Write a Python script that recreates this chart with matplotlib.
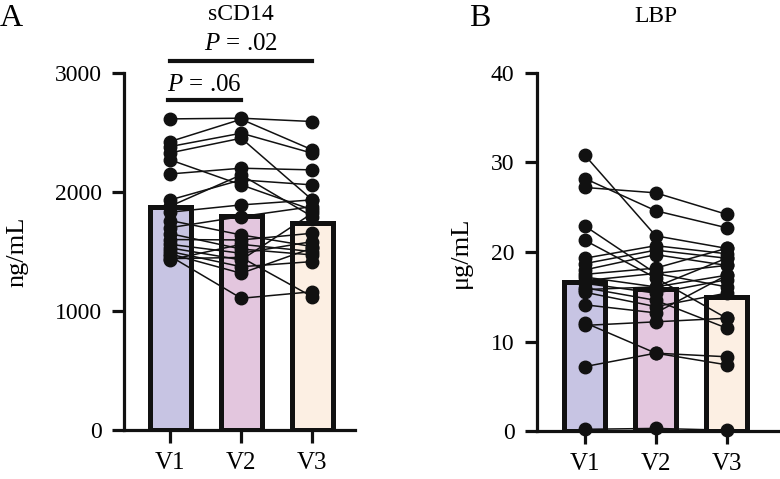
import matplotlib
matplotlib.use('Agg')
from matplotlib import pyplot as plt

plt.rcParams['font.family'] = ['Liberation Serif', 'DejaVu Serif']
plt.rcParams['mathtext.fontset'] = 'custom'
plt.rcParams['mathtext.rm'] = 'Liberation Serif'
plt.rcParams['mathtext.it'] = 'Liberation Serif:italic'

visits = ['V1', 'V2', 'V3']
bar_colors = ['#c7c4e3', '#e3c6de', '#fcefe3']

# sCD14 (ng/mL), one row per subject: V1, V2, V3
scd14 = [
    [2613, 2619, 2591], [2423, 2610, 2353], [2381, 2493, 2325], [2328, 2451, 1933],
    [2269, 2059, 1849], [2151, 2199, 2185], [1933, 2101, 2059], [1880, 2143, 1793],
    [1830, 1891, 1933], [1760, 1639, 1541], [1700, 1793, 1877], [1650, 1520, 1471],
    [1600, 1597, 1653], [1560, 1485, 1583], [1530, 1429, 1821], [1500, 1372, 1415],
    [1480, 1317, 1529], [1460, 1107, 1162], [1440, 1450, 1120], [1430, 1560, 1499],
]
scd14_mean = [1875, 1800, 1735]

# LBP (ug/mL)
lbp = [
    [30.8, 21.8, 20.4], [28.2, 24.6, 22.7], [27.2, 26.6, 24.2], [22.9, 17.6, 16.1],
    [21.3, 17.1, 12.6], [19.3, 20.7, 19.8], [18.7, 20.2, 19.3], [18.0, 19.7, 18.5],
    [17.5, 18.2, 20.4], [17.2, 16.1, 17.4], [16.5, 15.4, 16.9], [16.0, 14.6, 11.5],
    [15.5, 13.9, 15.4], [14.1, 13.2, 17.4], [12.1, 8.7, 8.3], [11.8, 12.2, 12.6],
    [7.2, 8.7, 7.4], [0.2, 0.3, 0.1], [15.8, 16.1, 19.3], [16.8, 17.6, 18.5],
]
lbp_mean = [16.6, 15.9, 15.0]

fig = plt.figure(figsize=(7.8, 4.79), dpi=100)
axA = fig.add_axes([0.159, 0.102, 0.296, 0.746])
axB = fig.add_axes([0.688, 0.100, 0.309, 0.748])

x = [0, 1, 2]


def draw_panel(ax, data, means, ymax, yticks, ylabel):
    ax.bar(x, means, width=0.58, color=bar_colors, edgecolor='#111111',
           linewidth=3.6, zorder=1)
    for row in data:
        ax.plot(x, row, color='#111111', lw=1.1, marker='o', ms=9,
                zorder=3, clip_on=False)
    ax.set_ylim(0, ymax)
    ax.set_yticks(yticks)
    ax.set_xticks(x)
    ax.set_xticklabels(visits)
    ax.set_ylabel(ylabel, fontsize=19)
    for s in ['top', 'right']:
        ax.spines[s].set_visible(False)
    for s in ['left', 'bottom']:
        ax.spines[s].set_linewidth(2.3)
        ax.spines[s].set_color('#111111')
    ax.tick_params(axis='both', width=2.3, length=9, color='#111111')
    ax.tick_params(axis='y', labelsize=17, pad=7)
    ax.tick_params(axis='x', labelsize=18, pad=7)


draw_panel(axA, scd14, scd14_mean, 3000, [0, 1000, 2000, 3000], 'ng/mL')
axA.set_xlim(-0.65, 2.6)
axA.yaxis.set_label_coords(-0.415, 0.5)
draw_panel(axB, lbp, lbp_mean, 40, [0, 10, 20, 30, 40], 'μg/mL')
axB.set_xlim(-0.68, 2.72)
axB.yaxis.set_label_coords(-0.27, 0.5)

# significance brackets
axA.plot([-0.03, 1.0], [2773, 2773], color='#111111', lw=3, clip_on=False)
axA.text(0.48, 2895, r'$P$ = .06', ha='center', va='center', fontsize=18)
axA.plot([0.0, 2.0], [3100, 3100], color='#111111', lw=3, clip_on=False)
axA.text(1.0, 3240, r'$P$ = .02', ha='center', va='center', fontsize=18)
axA.text(1.0, 3490, 'sCD14', ha='center', va='center', fontsize=17)
axB.text(1.0, 46.3, 'LBP', ha='center', va='center', fontsize=17)

fig.text(0.0, 0.962, 'A', fontsize=23, va='center', ha='left')
fig.text(0.601, 0.962, 'B', fontsize=23, va='center', ha='left')

fig.savefig('out.png', dpi=100)
